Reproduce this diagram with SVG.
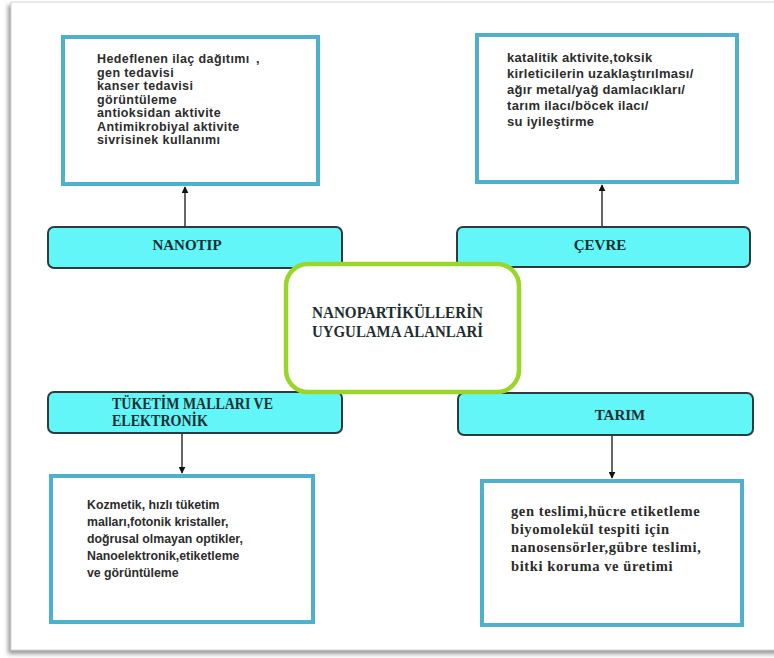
<svg xmlns="http://www.w3.org/2000/svg" width="774" height="658" viewBox="0 0 774 658">
<defs>
<style>
.box{fill:#fff;stroke:#4fb0cc;stroke-width:4}
.band{fill:#62f6f8;stroke:#2e3b3d;stroke-width:2}
.sans{font-family:"Liberation Sans",Arial,sans-serif;font-weight:bold;font-size:12.5px;fill:#2c2c2c}
.serif{font-family:"Liberation Serif","Times New Roman",serif;font-weight:bold;fill:#1e2e30}
.lbl{font-size:15px}
.conn{stroke:#333;stroke-width:1.5;fill:none}
</style>
<marker id="ah" viewBox="0 0 10 10" refX="9" refY="5" markerWidth="7" markerHeight="7" orient="auto" markerUnits="userSpaceOnUse">
<path d="M0,0 L10,5 L0,10 z" fill="#111"/>
</marker>
<filter id="sh" x="-5%" y="-5%" width="110%" height="110%">
<feGaussianBlur stdDeviation="2"/>
</filter>
</defs>
<rect width="774" height="658" fill="#fff"/>
<g id="page">
<rect x="8" y="5" width="770" height="649" fill="#9a9a9a" filter="url(#sh)"/>
<rect x="11" y="2" width="770" height="648" fill="#fff" stroke="#d6d6d6" stroke-width="1"/>
</g>
<g id="connectors">
<line class="conn" x1="185" y1="227" x2="185" y2="187" marker-end="url(#ah)"/>
<line class="conn" x1="602" y1="227" x2="602" y2="185" marker-end="url(#ah)"/>
<line class="conn" x1="182" y1="433" x2="182" y2="473" marker-end="url(#ah)"/>
<line class="conn" x1="612" y1="435" x2="612" y2="478" marker-end="url(#ah)"/>
</g>
<g id="nanotip-box">
<rect class="box" x="63" y="37" width="255" height="147"/>
<text class="sans" style="letter-spacing:0.4px"><tspan x="97" y="63">Hedeflenen ilaç dağıtımı</tspan><tspan x="256" y="63">,</tspan><tspan x="97" y="76.5">gen tedavisi</tspan><tspan x="97" y="90">kanser tedavisi</tspan><tspan x="97" y="103.5">görüntüleme</tspan><tspan x="97" y="117">antioksidan aktivite</tspan><tspan x="97" y="130.5">Antimikrobiyal aktivite</tspan><tspan x="97" y="144">sivrisinek kullanımı</tspan></text>
</g>
<g id="cevre-box">
<rect class="box" x="477" y="35" width="260" height="147"/>
<text class="sans" style="font-size:13px;letter-spacing:0.3px"><tspan x="507" y="62">katalitik aktivite,toksik</tspan><tspan x="507" y="78">kirleticilerin uzaklaştırılması/</tspan><tspan x="507" y="94">ağır metal/yağ damlacıkları/</tspan><tspan x="507" y="110">tarım ilacı/böcek ilacı/</tspan><tspan x="507" y="126">su iyileştirme</tspan></text>
</g>
<g id="tuketim-box">
<rect class="box" x="51" y="476" width="262" height="146"/>
<text class="sans" style="font-size:12.3px"><tspan x="87" y="509">Kozmetik, hızlı tüketim</tspan><tspan x="87" y="526">malları,fotonik kristaller,</tspan><tspan x="87" y="543">doğrusal olmayan optikler,</tspan><tspan x="87" y="560">Nanoelektronik,etiketleme</tspan><tspan x="87" y="577">ve görüntüleme</tspan></text>
</g>
<g id="tarim-box">
<rect class="box" x="482" y="481" width="260" height="144"/>
<text class="serif" style="font-size:14.5px;letter-spacing:0.6px;fill:#2a2a2a"><tspan x="511" y="516">gen teslimi,hücre etiketleme</tspan><tspan x="511" y="534">biyomolekül tespiti için</tspan><tspan x="511" y="552">nanosensörler,gübre teslimi,</tspan><tspan x="511" y="571">bitki koruma ve üretimi</tspan></text>
</g>
<g id="nanotip">
<rect class="band" x="48" y="227" width="294" height="41" rx="6"/>
<text class="serif lbl" x="187" y="250" text-anchor="middle">NANOTIP</text>
</g>
<g id="cevre">
<rect class="band" x="457" y="227" width="293" height="40" rx="6"/>
<text class="serif lbl" x="600" y="250" text-anchor="middle">ÇEVRE</text>
</g>
<g id="tuketim">
<rect class="band" x="48" y="392" width="294" height="41" rx="6"/>
<text class="serif" style="font-size:16px"><tspan x="112" y="409" textLength="161" lengthAdjust="spacingAndGlyphs">TÜKETİM MALLARI VE</tspan><tspan x="112" y="426" textLength="96" lengthAdjust="spacingAndGlyphs">ELEKTRONİK</tspan></text>
</g>
<g id="tarim">
<rect class="band" x="458" y="393" width="295" height="42" rx="6"/>
<text class="serif lbl" x="620" y="420" text-anchor="middle">TARIM</text>
</g>
<g id="center">
<rect x="286" y="264" width="233" height="128" rx="22" fill="#fff" stroke="#9ad62a" stroke-width="4.5"/>
<text class="serif" style="font-size:16px"><tspan x="312" y="318" textLength="171" lengthAdjust="spacingAndGlyphs">NANOPARTİKÜLLERİN</tspan><tspan x="312" y="337" textLength="171" lengthAdjust="spacingAndGlyphs">UYGULAMA ALANLARİ</tspan></text>
</g>
</svg>
